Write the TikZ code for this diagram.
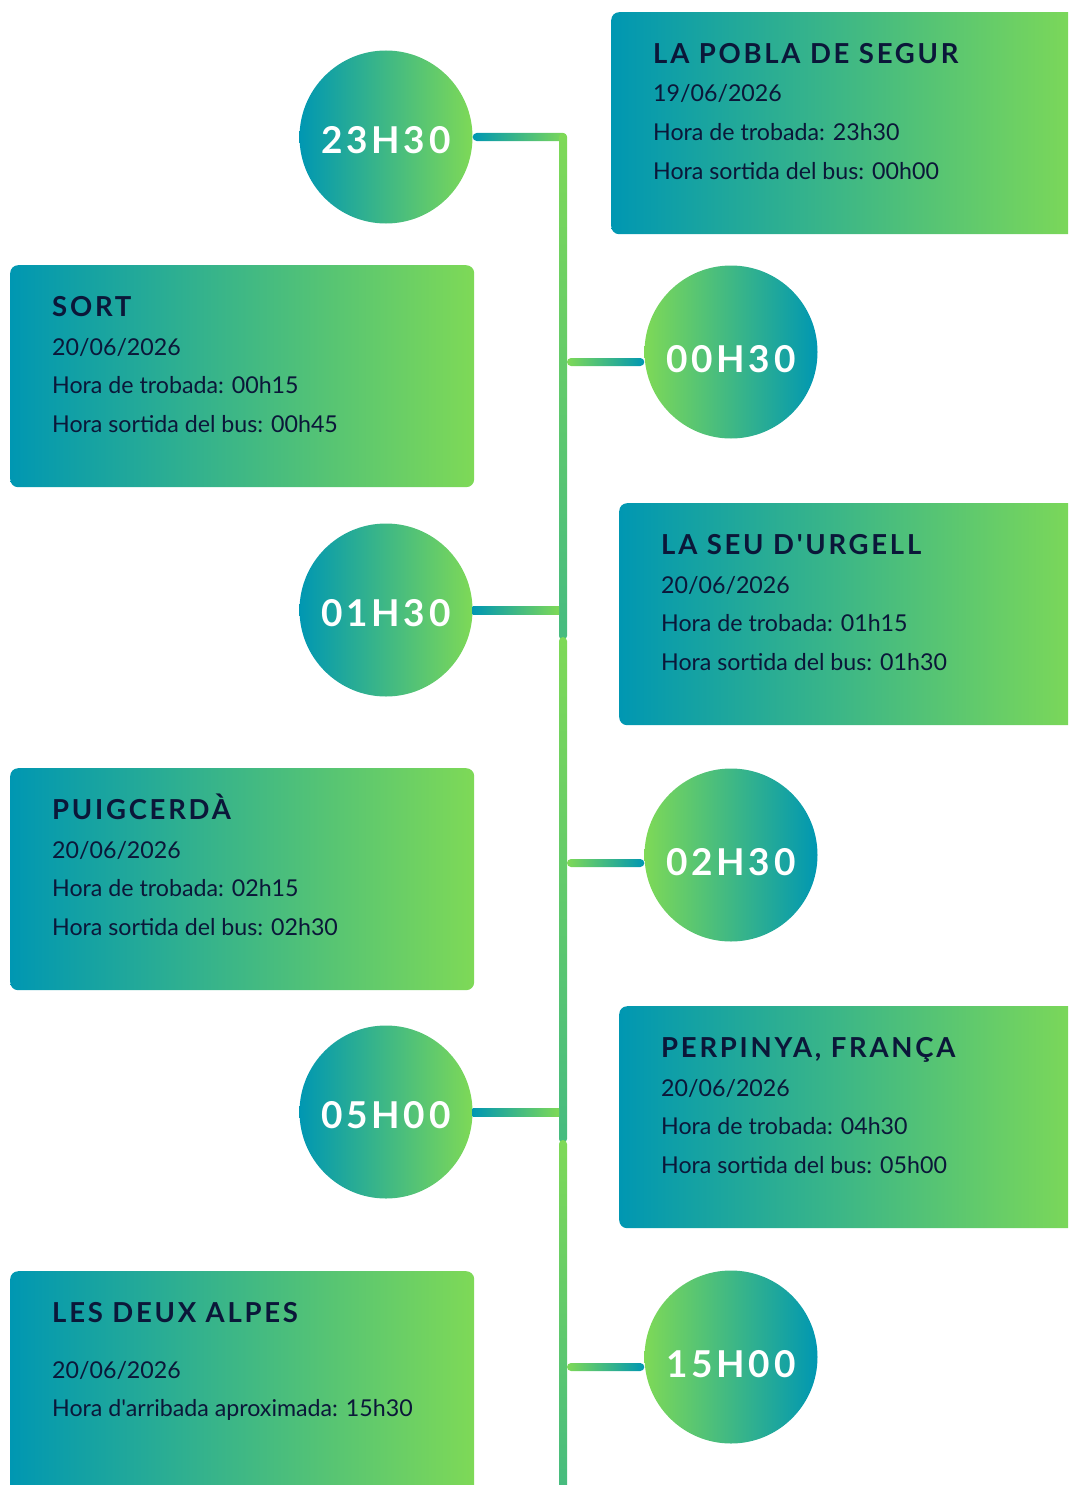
\documentclass[tikz,border=0pt]{standalone}
\usepackage{fontspec}
\setmainfont{Lato}[Ligatures=TeXOff]
\newfontfamily\titlefont{Lato}[LetterSpace=10, Ligatures=TeXOff]
\usetikzlibrary{positioning}
\definecolor{tealc}{HTML}{0097B2}
\definecolor{greenc}{HTML}{7ED957}
\definecolor{navyc}{HTML}{0B1739}
\tikzset
{
    infobox/.style   = {rectangle, rounded corners=8pt, anchor=north west, inner sep=0pt, minimum height=222pt, left color=tealc, right color=greenc},
    hourleft/.style  = {circle, inner sep=0pt, minimum size=173pt, text height=33pt, text depth=0pt, left color=tealc, right color=greenc, text=white, font=\titlefont\bfseries\fontsize{37}{40}\selectfont},
    hourright/.style = {hourleft, text height=40pt, left color=greenc, right color=tealc},
    boxtitle/.style  = {anchor=base west, inner sep=0pt, text=navyc, font=\titlefont\bfseries\fontsize{27.5}{30}\selectfont},
    boxline/.style   = {anchor=base west, inner sep=0pt, text=navyc, font=\fontsize{23.2}{26}\selectfont},
    spine/.style     = {top color=greenc, bottom color=greenc!55!tealc, rounded corners=4pt},
    linkleft/.style  = {left color=tealc, right color=greenc},
    linkright/.style = {left color=greenc, right color=tealc, rounded corners=4pt}
}

\begin{document}
\begin{tikzpicture}[x=1pt, y=-1pt]
   \newcommand\TXTDX{42}
   \newcommand\TXTDY{51.5}
   \newcommand\LINESKIP{38.5}

   \useasboundingbox (0, 0) rectangle (1068, 1485);
   \clip (0, 0) rectangle (1068, 1485);

   % info boxes
   \node (pobla) [infobox, minimum width=470pt] at (611, 12)   {};
   \node (sort)  [infobox, minimum width=464pt] at (10, 265)   {};
   \node (seu)   [infobox, minimum width=462pt] at (619, 503)  {};
   \node (puig)  [infobox, minimum width=464pt] at (10, 768)   {};
   \node (perp)  [infobox, minimum width=462pt] at (619, 1006) {};
   \node (alpes) [infobox, minimum width=464pt] at (10, 1271)  {};

   \node (pobla-t) [boxtitle] at ([shift=({\TXTDX, \TXTDY})]pobla.north west) {LA POBLA DE SEGUR};
   \node (pobla-a) [boxline]  at ([shift=({0, \LINESKIP})]pobla-t.base west)  {19/06/2026};
   \node (pobla-b) [boxline]  at ([shift=({0, \LINESKIP})]pobla-a.base west)  {Hora de trobada: 23h30};
   \node (pobla-c) [boxline]  at ([shift=({0, \LINESKIP})]pobla-b.base west)  {Hora sortida del bus: 00h00};

   \node (sort-t)  [boxtitle] at ([shift=({\TXTDX, \TXTDY})]sort.north west)  {SORT};
   \node (sort-a)  [boxline]  at ([shift=({0, \LINESKIP})]sort-t.base west)   {20/06/2026};
   \node (sort-b)  [boxline]  at ([shift=({0, \LINESKIP})]sort-a.base west)   {Hora de trobada: 00h15};
   \node (sort-c)  [boxline]  at ([shift=({0, \LINESKIP})]sort-b.base west)   {Hora sortida del bus: 00h45};

   \node (seu-t)   [boxtitle] at ([shift=({\TXTDX, \TXTDY})]seu.north west)   {LA SEU D'URGELL};
   \node (seu-a)   [boxline]  at ([shift=({0, \LINESKIP})]seu-t.base west)    {20/06/2026};
   \node (seu-b)   [boxline]  at ([shift=({0, \LINESKIP})]seu-a.base west)    {Hora de trobada: 01h15};
   \node (seu-c)   [boxline]  at ([shift=({0, \LINESKIP})]seu-b.base west)    {Hora sortida del bus: 01h30};

   \node (puig-t)  [boxtitle] at ([shift=({\TXTDX, \TXTDY})]puig.north west)  {PUIGCERDÀ};
   \node (puig-a)  [boxline]  at ([shift=({0, \LINESKIP})]puig-t.base west)   {20/06/2026};
   \node (puig-b)  [boxline]  at ([shift=({0, \LINESKIP})]puig-a.base west)   {Hora de trobada: 02h15};
   \node (puig-c)  [boxline]  at ([shift=({0, \LINESKIP})]puig-b.base west)   {Hora sortida del bus: 02h30};

   \node (perp-t)  [boxtitle] at ([shift=({\TXTDX, \TXTDY})]perp.north west)  {PERPINYA, FRANÇA};
   \node (perp-a)  [boxline]  at ([shift=({0, \LINESKIP})]perp-t.base west)   {20/06/2026};
   \node (perp-b)  [boxline]  at ([shift=({0, \LINESKIP})]perp-a.base west)   {Hora de trobada: 04h30};
   \node (perp-c)  [boxline]  at ([shift=({0, \LINESKIP})]perp-b.base west)   {Hora sortida del bus: 05h00};

   \node (alpes-t) [boxtitle] at ([shift=({\TXTDX, \TXTDY})]alpes.north west) {LES DEUX ALPES};
   \node (alpes-a) [boxline]  at ([shift=({0, 55.5})]alpes-t.base west)       {20/06/2026};
   \node (alpes-b) [boxline]  at ([shift=({0, \LINESKIP})]alpes-a.base west)  {Hora d'arribada aproximada: 15h30};

   % hour circles
   \node (h2330) [hourleft]  at (386, 137)  {23H30};
   \node (h0030) [hourright] at (731, 352)  {00H30};
   \node (h0130) [hourleft]  at (386, 610)  {01H30};
   \node (h0230) [hourright] at (731, 855)  {02H30};
   \node (h0500) [hourleft]  at (386, 1112) {05H00};
   \node (h1500) [hourright] at (731, 1357) {15H00};

   % junctions on the spine
   \coordinate (j2330) at (563, 137);
   \coordinate (j0030) at (563, 362);
   \coordinate (j0130) at (563, 610);
   \coordinate (j0230) at (563, 863);
   \coordinate (j0500) at (563, 1112);
   \coordinate (j1500) at (563, 1367);

   \shade[linkleft, rounded corners=4pt] ([yshift=4pt]h2330.east) rectangle ([shift=({4, 4})]j2330);
   \shade[spine] ([shift=({-4, -4})]j2330) rectangle (567, 640);
   \shade[spine] (559, 637)  rectangle (567, 1143);
   \shade[spine] (559, 1140) rectangle (567, 1495);

   \shade[linkleft]  ([yshift=4pt]h0130.east) rectangle ([shift=({-4, 4})]j0130);
   \shade[linkleft]  ([yshift=4pt]h0500.east) rectangle ([shift=({-4, 4})]j0500);
   \shade[linkright] ([shift=({4, -4})]j0030) rectangle ([yshift=-4pt]h0030.west |- j0030);
   \shade[linkright] ([shift=({4, -4})]j0230) rectangle ([yshift=-4pt]h0230.west |- j0230);
   \shade[linkright] ([shift=({4, -4})]j1500) rectangle ([yshift=-4pt]h1500.west |- j1500);
\end{tikzpicture}
\end{document}
